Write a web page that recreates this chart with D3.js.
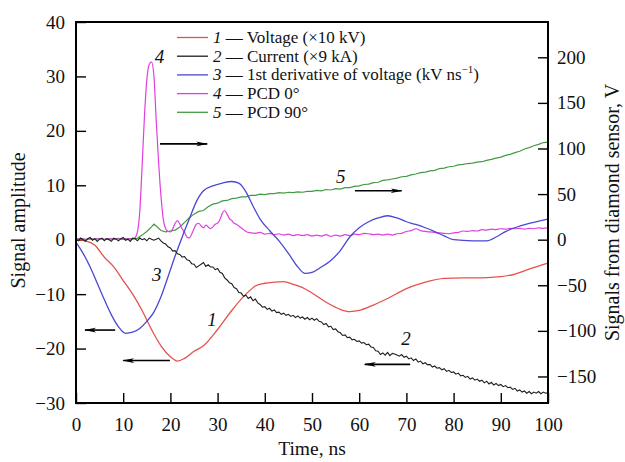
<!DOCTYPE html>
<html><head><meta charset="utf-8">
<script src="https://cdn.jsdelivr.net/npm/d3@7/dist/d3.min.js"></script>
<style>
body{margin:0;background:#fff}
svg{display:block}
text{font-family:"Liberation Serif","Times New Roman",serif;fill:#111}
</style>
</head><body>
<script>
// ---------- data ----------
const xTicks = [0,10,20,30,40,50,60,70,80,90,100];
const leftTicks = [-30,-20,-10,0,10,20,30,40];
const rightTicks = [-150,-100,-50,0,50,100,150,200];

// 1 — Voltage (x10 kV), left axis
const voltageT = [0,2,4,6,8,10,12,14,16,18,20,21.5,23,25,27,30,33,36,38,40,42,44,46,48,50,53,56,58,60,63,66,70,74,78,82,86,90,93,96,100];
const voltageV = [0,-0.2,-1,-3.2,-5,-7.5,-10,-13,-16.5,-19.5,-21.5,-22.3,-21.8,-20.5,-19.5,-16.5,-13,-10,-8.5,-8,-7.8,-7.7,-8.2,-8.8,-9.8,-11.5,-12.8,-13.2,-13,-12,-10.8,-9,-7.8,-7.1,-7.0,-7,-6.8,-6.3,-5.4,-4.3];

// 3 — 1st derivative of voltage, left axis
const derivT = [0,1.5,3,4.5,6,7.5,9,10.5,12,13.5,15,16.5,18,19.5,21,22.5,24,25.5,27,29,31,33,34.5,36,37.5,39,41,43,45,47,48.5,50,52,54,56,58,60,62,64,66,68,70,72,74,76,78,80,84,87,89,91,93,96,100];
const derivV = [-0.5,-2.5,-5,-8,-11,-13.8,-16,-17.2,-17,-16.3,-15,-13.3,-10.5,-6.8,-3,0.5,3.8,7,9,9.9,10.4,10.7,10.4,8.8,6.2,3.8,1.7,-0.2,-2.5,-5,-6.2,-6,-5,-3.8,-2,0.5,2.2,3.3,4,4.4,4,3.3,2.8,2.2,1.5,0.7,0,-0.2,-0.2,0.5,1.5,2.2,3,3.8];

// 2 — Current (x9 kA), left axis, sampled every 0.5 ns from 0 to 100 ns
const currentStart = 0, currentStep = 0.5;
const currentV = [
0.1,-0.2,0.3,0.0,-0.3,0.2,0.4,-0.1,0.2,-0.3,
0.1,0.3,-0.2,0.2,0.0,-0.3,0.3,0.1,-0.2,0.2,
0.4,-0.1,0.1,-0.3,0.3,0.2,-0.2,0.3,0.0,0.2,
-0.2,0.3,0.1,-0.1,0.1,0.3,-0.2,-0.6,-0.8,-1.3,
-1.5,-2.1,-2.0,-2.6,-2.7,-3.2,-3.1,-3.7,-3.8,-4.4,
-4.5,-5.1,-4.8,-4.5,-4.2,-4.9,-4.6,-5.0,-5.0,-5.5,
-5.3,-6.0,-6.2,-7.0,-7.4,-7.9,-8.1,-8.8,-9.0,-9.7,
-9.8,-10.4,-10.2,-10.8,-10.5,-11.2,-10.9,-11.6,-11.9,-12.4,
-12.3,-12.8,-12.6,-13.1,-12.9,-13.4,-13.3,-13.7,-13.5,-13.9,
-13.7,-14.1,-13.9,-14.3,-14.0,-14.4,-14.2,-14.6,-14.3,-14.7,
-14.4,-14.8,-14.5,-15.0,-15.1,-15.6,-15.4,-16.0,-15.9,-16.5,
-16.4,-16.9,-17.1,-17.6,-17.5,-18.0,-17.9,-18.4,-18.3,-18.7,
-18.6,-19.0,-18.9,-19.3,-19.2,-19.7,-19.8,-20.4,-20.5,-21.1,
-20.8,-21.2,-20.7,-21.3,-20.9,-21.0,-21.2,-21.4,-21.1,-21.6,
-21.4,-21.9,-21.7,-22.2,-21.9,-22.5,-22.3,-22.8,-22.6,-23.0,
-22.9,-23.4,-23.2,-23.6,-23.5,-23.9,-23.7,-24.2,-24.0,-24.4,
-24.3,-24.7,-24.5,-25.0,-24.9,-25.3,-25.1,-25.6,-25.4,-25.8,
-25.6,-26.0,-25.8,-26.3,-26.0,-26.5,-26.2,-26.7,-26.4,-26.8,
-26.6,-27.0,-26.8,-27.2,-27.1,-27.5,-27.3,-27.8,-27.6,-28.0,
-27.8,-28.2,-27.9,-28.3,-28.0,-28.2,-27.9,-28.3,-28.0,-28.2,
-28.1];

// 4 — PCD 0°, right axis (V)
const pcd0T = [0,1,2,3,4,5,6,7,8,9,10,11,12,12.5,13,13.5,14,14.5,15,15.5,16,16.5,17,17.5,18,18.5,19,19.5,20,20.5,21,21.5,22,22.5,23,23.5,24,24.5,25,25.5,26,26.5,27,27.5,28,28.5,29,29.5,30,30.5,31,31.5,32,32.5,33,33.5,34,34.5,35,35.5,36,37,38,39,40,41,42,43,44,45,46,47,48,49,50,51,52,53,54,55,56,57,58,59,60,61,62,63,64,65,66,67,68,69,70,71,72,73,74,75,76,77,78,79,80,81,82,83,84,85,86,87,88,89,90,91,92,93,94,95,96,97,98,99,100];
const pcd0V = [0.3,1.0,0.2,0.9,0.4,1.1,0.3,0.8,0.5,1.0,0.2,0.9,0.6,2,8,30,80,135,175,192,195,180,130,85,48,22,12,9,8.5,12,18,21,17,12,8,3,2,6,12,17,18,15,13,16,14,12,14,17,18,22,29,32,28,23,21,18,17,15,13,11,9,7.5,7,8,6,7,5.5,6.5,5,6,4.5,5.5,4.5,5.5,4,5,4,5.5,3.5,5,4,5.5,4.5,6,5.5,7,6.5,5.5,6,5,6,5,6.5,7,9,10,12,10,9,8.5,8,7.5,7,6.5,7.5,8,9.5,9,10,9.5,11,10.5,11.5,11,12,11.5,12.5,12,12.5,11.5,12.5,12,13,12.5,13];

// 5 — PCD 90°, right axis (V)
const pcd90T = [0,1,2,3,4,5,6,7,8,9,10,11,12,13,14,15,16,16.5,17,18,19,20,21,22,23,24,25,26,27,28,29,30,31,32,33,34,35,36,37,38,39,40,41,42,43,44,45,46,47,48,49,50,51,52,53,54,55,56,57,58,59,60,61,62,63,64,65,66,67,68,69,70,71,72,73,74,75,76,77,78,79,80,81,82,83,84,85,86,87,88,89,90,91,92,93,94,95,96,97,98,99,100];
const pcd90V = [0.5,1.2,0.3,1.0,0.6,1.3,0.4,1.1,0.7,1.4,0.5,1.2,0.8,1.5,5,9,14,17,15,10,8.5,9.5,10.5,14,19,24,28,31,32,36,39,40,42.5,43,45,45.5,47,47,48.5,48.5,50,49.5,50.5,50.5,51.5,51,52,51.5,52.5,52,53,53,54,53.5,55,54.5,56,55.5,57,57,58.5,59,60.5,61,62.5,63,65,65.5,66.5,67.5,69,69.5,71,72,73.5,74,75.5,76,78,78.5,80,80.5,82,82.5,83.5,84,85,85.5,87,88,89.5,90.5,92.5,93.5,95.5,97,99.5,101,103,104.5,106.5,107];

// legend / annotations
const seriesNames = ["Voltage (\u00d710 kV)","Current (\u00d79 kA)","1st derivative of voltage (kV ns","PCD 0\u00b0","PCD 90\u00b0"];
const seriesNums = ["1","2","3","4","5"];
const seriesColors = ["#e5524c","#1e1e1e","#4a48d2","#e03fe0","#449a44"];
// curve labels: [label, t, left-axis value]
const curveLabels = [["4",16.7,32.5],["3",16.1,-7.6],["1",27.8,-15.8],["5",55.1,10.4],["2",68.9,-19.4]];
// arrows: [tailT, headT, left-axis value]
const arrows = [[17.8,27.8,17.6],[8.3,1.9,-16.6],[19.9,10.0,-22.2],[59.1,69.0,9.0],[70.8,61.2,-22.9]];

// ---------- drawing ----------
const W = 625, H = 462;
const m = {l:76, r:548, t:22, b:403};
const svg = d3.select("body").append("svg").attr("width",W).attr("height",H);

const x = d3.scaleLinear().domain([0,100]).range([m.l,m.r]);
const yL = d3.scaleLinear().domain([-30,40]).range([m.b,m.t]);
const yR = d3.scaleLinear().domain([-179.1,238.7]).range([m.b,m.t]);

const defs = svg.append("defs");
defs.append("marker").attr("id","ah").attr("viewBox","0 0 12 6").attr("refX",11).attr("refY",3)
  .attr("markerWidth",12).attr("markerHeight",6).attr("markerUnits","userSpaceOnUse").attr("orient","auto")
  .append("path").attr("d","M0,0.6 L12,3 L0,5.4 L3,3 Z").attr("fill","#000");

defs.append("clipPath").attr("id","plot").append("rect")
  .attr("x",m.l).attr("y",m.t).attr("width",m.r-m.l).attr("height",m.b-m.t);

// axes
const fs = "19px";
const ax = svg.append("g").attr("transform",`translate(0,${m.b})`)
  .call(d3.axisBottom(x).tickValues(xTicks).tickSize(-10).tickPadding(15).tickFormat(d3.format("d")));
const al = svg.append("g").attr("transform",`translate(${m.l},0)`)
  .call(d3.axisLeft(yL).tickValues(leftTicks).tickSize(-10).tickPadding(11));
const ar = svg.append("g").attr("transform",`translate(${m.r},0)`)
  .call(d3.axisRight(yR).tickValues(rightTicks).tickSize(-10).tickPadding(9));
[ax,al,ar].forEach(g=>{
  g.select(".domain").remove();
  g.selectAll(".tick line").attr("stroke","#000").attr("stroke-width",1.4);
  g.selectAll(".tick text").attr("font-family","Liberation Serif, serif").attr("font-size",fs).attr("fill","#111");
});

// curves
const plot = svg.append("g").attr("clip-path","url(#plot)");
const lineL = d3.line().x(d=>x(d[0])).y(d=>yL(d[1]));
const lineR = d3.line().x(d=>x(d[0])).y(d=>yR(d[1]));
const zip = (a,b)=>a.map((t,i)=>[t,b[i]]);
const currentT = currentV.map((_,i)=>currentStart+i*currentStep);

plot.append("path").datum(zip(pcd90T,pcd90V)).attr("d",lineR).attr("fill","none").attr("stroke",seriesColors[4]).attr("stroke-width",1.2);
plot.append("path").datum(zip(pcd0T,pcd0V)).attr("d",lineR.curve(d3.curveMonotoneX)).attr("fill","none").attr("stroke",seriesColors[3]).attr("stroke-width",1.2);
plot.append("path").datum(zip(voltageT,voltageV)).attr("d",lineL.curve(d3.curveMonotoneX)).attr("fill","none").attr("stroke",seriesColors[0]).attr("stroke-width",1.3);
plot.append("path").datum(zip(derivT,derivV)).attr("d",lineL.curve(d3.curveMonotoneX)).attr("fill","none").attr("stroke",seriesColors[2]).attr("stroke-width",1.3);
plot.append("path").datum(zip(currentT,currentV)).attr("d",lineL.curve(d3.curveLinear)).attr("fill","none").attr("stroke",seriesColors[1]).attr("stroke-width",1.1);

// frame
svg.append("rect").attr("x",m.l).attr("y",m.t).attr("width",m.r-m.l).attr("height",m.b-m.t)
  .attr("fill","none").attr("stroke","#000").attr("stroke-width",2);

// legend
const lg = svg.append("g");
const rowH = 18.7, base0 = 43;
seriesNames.forEach((name,i)=>{
  const yb = base0 + i*rowH;
  lg.append("line").attr("x1",177).attr("x2",208).attr("y1",yb-5.5).attr("y2",yb-5.5)
    .attr("stroke",seriesColors[i]).attr("stroke-width",1.3);
  const t = lg.append("text").attr("x",213).attr("y",yb).attr("font-size","17px");
  t.append("tspan").attr("font-style","italic").text(seriesNums[i]);
  t.append("tspan").text(" \u2014 "+name);
  if(i===2){
    t.append("tspan").attr("dy",-7).attr("font-size","11px").text("\u22121");
    t.append("tspan").attr("dy",7).text(")");
  }
});

// curve labels
curveLabels.forEach(c=>{
  svg.append("text").attr("x",x(c[1])).attr("y",yL(c[2])).attr("font-size","19px").attr("font-style","italic").text(c[0]);
});
// arrows
arrows.forEach(a=>{
  svg.append("line").attr("x1",x(a[0])).attr("x2",x(a[1])).attr("y1",yL(a[2])).attr("y2",yL(a[2]))
    .attr("stroke","#000").attr("stroke-width",1.6).attr("marker-end","url(#ah)");
});

// axis titles
svg.append("text").attr("x",(m.l+m.r)/2).attr("y",455).attr("text-anchor","middle").attr("font-size","19.5px").text("Time, ns");
svg.append("text").attr("transform",`translate(25,${(m.t+m.b)/2+8}) rotate(-90)`).attr("text-anchor","middle").attr("font-size","20px").text("Signal amplitude");
svg.append("text").attr("transform",`translate(619,${(m.t+m.b)/2}) rotate(-90)`).attr("text-anchor","middle").attr("font-size","20px").text("Signals from diamond sensor, V");
</script>
</body></html>
